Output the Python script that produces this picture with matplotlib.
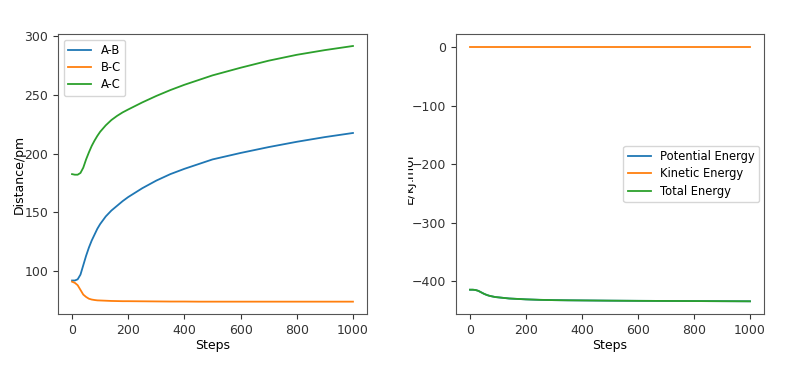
import numpy as np
import matplotlib.pyplot as plt
from matplotlib.patches import Rectangle

plt.rcParams['font.size'] = 9

# Distancias (pm) frente a pasos
steps = [0, 10, 20, 30, 40, 50, 60, 70, 80, 90, 100, 120, 140, 160, 180, 200,
         250, 300, 350, 400, 450, 500, 600, 700, 800, 900, 1000]
ab = [92, 92, 93, 97, 105, 113, 120, 126, 131, 136, 140, 146.5, 151.5, 155.5,
      159.5, 163, 170.5, 177, 182.5, 187, 191, 195, 200.5, 205.5, 210, 214,
      217.5]
bc = [91, 90, 88, 84, 80, 78, 76.5, 75.8, 75.4, 75.1, 75, 74.8, 74.6, 74.5,
      74.4, 74.4, 74.3, 74.2, 74.1, 74.1, 74, 74, 74, 74, 74, 74, 74]
ac = [182.5, 182, 182, 183.5, 188, 195, 201, 206.5, 211, 215, 218.5, 224,
      228.5, 232, 235, 237.5, 243.5, 249, 254, 258.5, 262.5, 266.5, 273, 279,
      284, 288, 291.5]

# Energias (kJ/mol) frente a pasos
kinetic = [0] * len(steps)
total = [-414.5, -414.5, -415, -416.5, -419, -421.5, -423.5, -425, -426,
         -427, -427.5, -428.5, -429.5, -430, -430.5, -431, -431.8, -432.3,
         -432.6, -432.8, -433, -433.2, -433.5, -433.7, -433.9, -434.1, -434.3]
potential = total

fig = plt.figure(figsize=(8, 3.78), dpi=100)

ax1 = fig.add_axes([58/800, 1-314/378, 309/800, 280/378])
ax1.plot(steps, ab, label='A-B', lw=1.3)
ax1.plot(steps, bc, label='B-C', lw=1.3)
ax1.plot(steps, ac, label='A-C', lw=1.3)
ax1.set_xlim(-50, 1050)
ax1.set_ylim(63.5, 301.7)
ax1.set_xticks([0, 200, 400, 600, 800, 1000])
ax1.set_yticks([100, 150, 200, 250, 300])
ax1.set_xlabel('Steps', labelpad=2)
ax1.set_ylabel('Distance/pm')
ax1.yaxis.set_label_coords(-0.105, 0.5)
ax1.legend(loc='upper left', fontsize=8.3, labelspacing=0.35)

ax2 = fig.add_axes([456/800, 1-314/378, 308/800, 280/378])
ax2.plot(steps, potential, label='Potential Energy', lw=1.3)
ax2.plot(steps, kinetic, label='Kinetic Energy', lw=1.3)
ax2.plot(steps, total, label='Total Energy', lw=1.3)
ax2.set_xlim(-50, 1050)
ax2.set_ylim(-456, 22.5)
ax2.set_xticks([0, 200, 400, 600, 800, 1000])
ax2.set_yticks([0, -100, -200, -300, -400])
ax2.set_xlabel('Steps', labelpad=2)
ax2.set_ylabel('E/kJ.mol$^{-1}$')
ax2.yaxis.set_label_coords(-0.115, 0.5)
ax2.legend(loc='center right', fontsize=8.3, labelspacing=0.35,
           borderaxespad=0.4)

for ax in (ax1, ax2):
    for s in ax.spines.values():
        s.set_color('#555555')
    ax.tick_params(colors='#333333')

# la etiqueta del eje aparece cortada en la imagen original
fig.add_artist(Rectangle((395/800, 0.2), 11.5/800, 0.6,
                         transform=fig.transFigure, color='white', zorder=10))

fig.savefig('out.png', dpi=100)
